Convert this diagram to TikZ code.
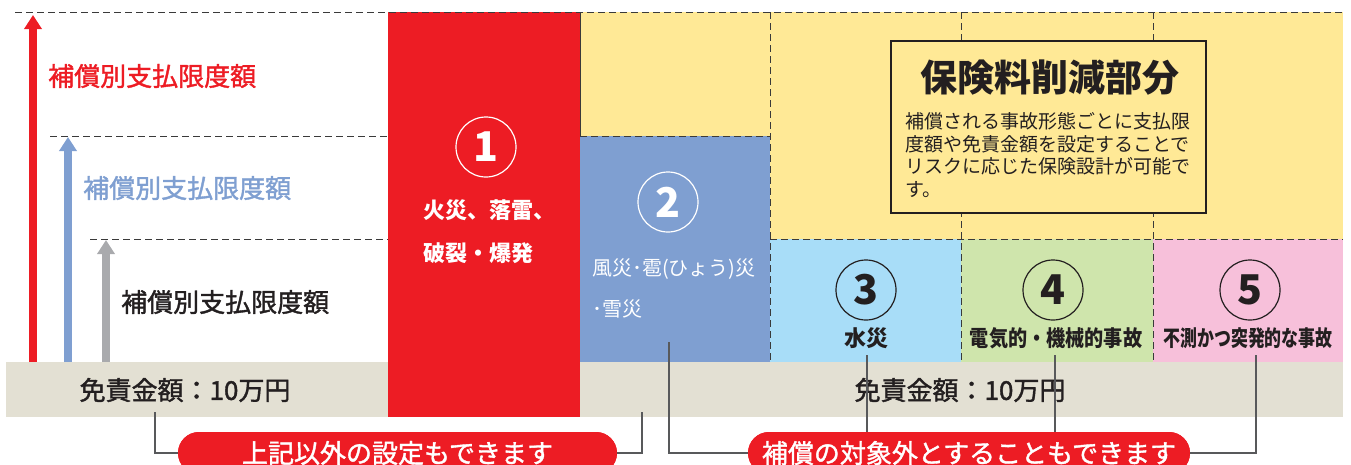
\documentclass[tikz,border=0pt]{standalone}
\usepackage{fontspec}
\setmainfont{Noto Sans CJK JP}
\newfontfamily\jpmed[FakeBold=1.5]{Noto Sans CJK JP}
\usetikzlibrary{arrows.meta}
\definecolor{hred}{HTML}{ED1C24}
\definecolor{cyellow}{HTML}{FFE996}
\definecolor{cblue}{HTML}{7F9FD1}
\definecolor{clblue}{HTML}{A8DDF8}
\definecolor{cgreen}{HTML}{CFE5AC}
\definecolor{cpink}{HTML}{F7C0DA}
\definecolor{cbeige}{HTML}{E3E0D3}
\definecolor{cgrey}{HTML}{A9AAAD}
\definecolor{textdark}{HTML}{231F20}
\definecolor{linegray}{HTML}{3A3A3A}
\definecolor{conngray}{HTML}{58595B}

\begin{document}
\begin{tikzpicture}[x=1pt,y=-1pt,
	dashln/.style={draw=linegray,line width=1pt,dash pattern=on 7pt off 4pt},
	num/.style={circle,line width=1.2pt,minimum size=60pt,inner sep=0pt,font=\fontsize{41}{41}\selectfont\bfseries},
	lim/.style={anchor=west,inner sep=0pt,font=\jpmed\fontsize{26}{26}\selectfont},
	deduct/.style={inner sep=0pt,text=textdark,font=\jpmed\fontsize{26}{26}\selectfont},
	cat/.style={inner sep=0pt,text=textdark,font=\fontsize{22}{22}\selectfont\bfseries},
	conn/.style={draw=conngray,line width=1.2pt},
	pill/.style={fill=hred,rounded corners=21pt,minimum width=#1,minimum height=42pt,inner sep=0pt,text=white,font=\jpmed\fontsize{26}{26}\selectfont},
	limarrow/.style={line width=8pt,-{Triangle[width=17pt,length=14pt]}}]
	\useasboundingbox (0,0) rectangle (1351,464);
	\clip (0,0) rectangle (1351,464);

	% colour areas
	\fill[cyellow] (580,12) rectangle (1343,239);
	\fill[cblue] (580,136) rectangle (770,362);
	\fill[clblue] (770,239) rectangle (961,362);
	\fill[cgreen] (961,239) rectangle (1153,362);
	\fill[cpink] (1153,239) rectangle (1343,362);
	\node[fill=cbeige,anchor=north west,inner sep=0pt,minimum width=1337pt,minimum height=55pt] (band) at (6,362) {};
	\fill[hred] (388,12) rectangle (580,417);

	% limit lines
	\draw[dashln] (15,12) -- (1343,12);
	\draw[dashln] (50,136) -- (388,136) (580,136) -- (770,136);
	\draw[dashln] (90,239) -- (388,239) (770,239) -- (1343,239);
	\draw[dashln] (770,12) -- (770,362) (961,12) -- (961,362) (1153,12) -- (1153,362);
	\draw[linegray,line width=0.8pt] (580,12) -- (580,136);

	% box
	\node[draw=textdark,line width=1.3pt,fill=cyellow,minimum width=315pt,minimum height=172pt] (box) at (1048.5,127) {};
	\node[inner sep=0pt,text=textdark,font=\fontsize{37}{37}\selectfont\bfseries] (title) at (1050,78) {保険料削減部分};
	\node[anchor=west,align=left,inner sep=0pt,text=textdark,font=\fontsize{19}{22.7}\selectfont] (body) at (905,155) {補償される事故形態ごとに支払限\\度額や免責金額を設定することで\\リスクに応じた保険設計が可能で\\す。};

	% arrows
	\coordinate (redtip) at (33,15);
	\coordinate (bluetip) at (68,137);
	\coordinate (greytip) at (106,240);
	\draw[limarrow,hred] (band.north -| redtip) -- (redtip);
	\draw[limarrow,cblue] (band.north -| bluetip) -- (bluetip);
	\draw[limarrow,cgrey] (band.north -| greytip) -- (greytip);
	\node[lim,text=hred] (limred) at (48,76) {補償別支払限度額};
	\node[lim,text=cblue] (limblue) at (83,188) {補償別支払限度額};
	\node[lim,text=textdark] (limgrey) at (121,302) {補償別支払限度額};

	\node[deduct] (dedl) at (185,390) {免責金額：10万円};
	\node[deduct] (dedr) at (960,390) {免責金額：10万円};

	% categories
	\node[num,draw=white,text=white] (n1) at (486,147) {1};
	\node[num,draw=white,text=white] (n2) at (668,202) {2};
	\node[num,draw=textdark,text=textdark] (n3) at (866,290) {3};
	\node[num,draw=textdark,text=textdark] (n4) at (1053,290) {4};
	\node[num,draw=textdark,text=textdark] (n5) at (1250,290) {5};
	\node[anchor=west,align=left,inner sep=0pt,text=white,font=\fontsize{22}{43}\selectfont\bfseries] (t1) at (423,232) {火災、落雷、\\破裂・爆発};
	\node[anchor=west,align=left,inner sep=0pt,text=white,font=\fontsize{20}{41}\selectfont] (t2) at (592,288) {風災･雹(ひょう)災\\･雪災};
	\node[cat] (t3) at (866,338) {水災};
	\node[cat] (t4) at (1056,338) {\scalebox{0.87}[1]{電気的・機械的事故}};
	\node[cat] (t5) at (1248,338) {\scalebox{0.77}[1]{不測かつ突発的な事故}};

	% connectors
	\coordinate (b1) at (155,412);
	\coordinate (b2) at (642,412);
	\coordinate (c2) at (669,342);
	\coordinate (c3) at (867,355);
	\coordinate (c4) at (1055,355);
	\coordinate (c5) at (1256,355);
	\node[pill=439pt] (pill1) at (397.5,453) {};
	\node[pill=442pt] (pill2) at (969,453) {};
	\draw[conn] (b1) |- (pill1.west);
	\draw[conn] (b2) |- (pill1.east);
	\draw[conn] (c2) |- (pill2.west);
	\draw[conn] (c3) -- (c3 |- pill2.north);
	\draw[conn] (c4) -- (c4 |- pill2.north);
	\draw[conn] (c5) |- (pill2.east);
	\node[pill=439pt] at (pill1) {上記以外の設定もできます};
	\node[pill=442pt] at (pill2) {補償の対象外とすることもできます};
\end{tikzpicture}
\end{document}
